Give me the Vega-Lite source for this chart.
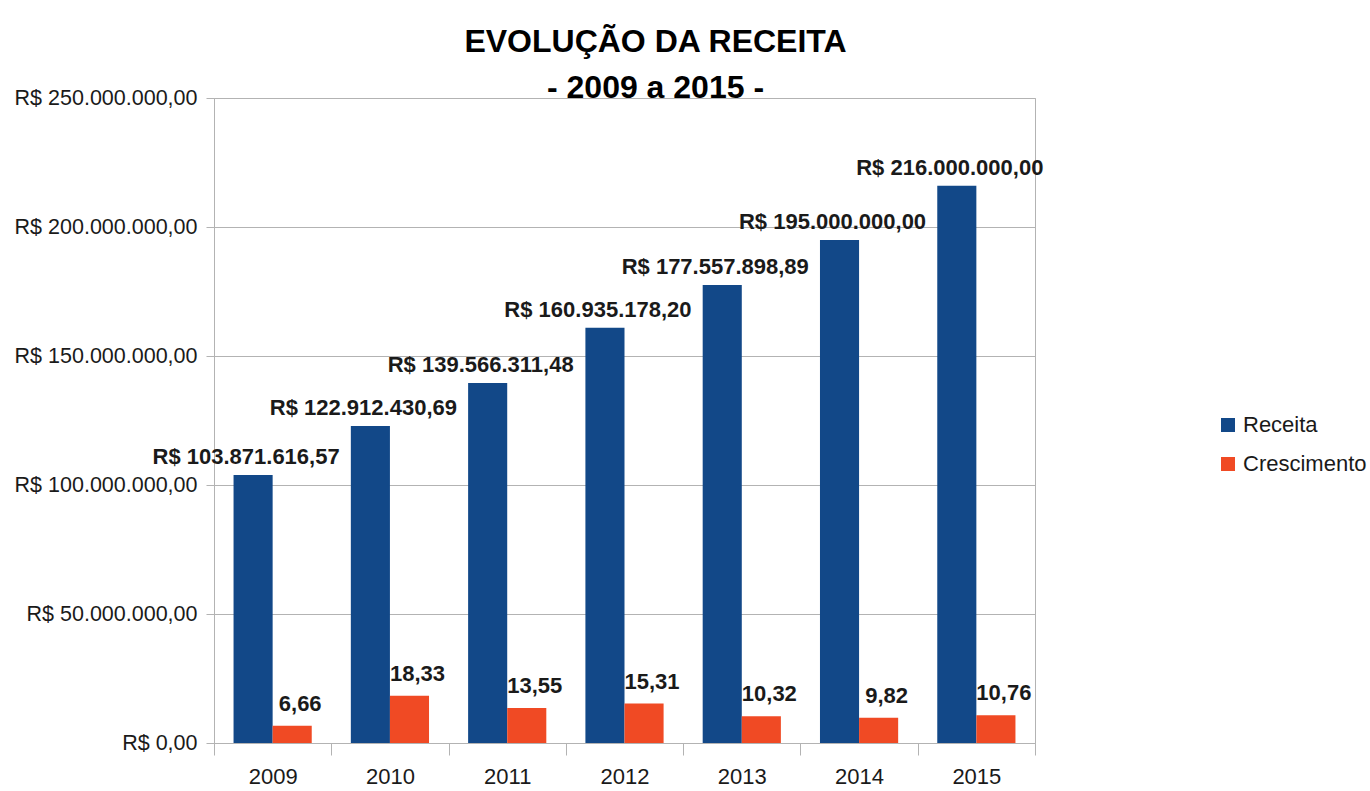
{
  "$schema": "https://vega.github.io/schema/vega-lite/v6.json",
  "width": 821,
  "height": 645,
  "autosize": {"type": "none"},
  "padding": {"left": 214, "top": 98, "right": 335, "bottom": 48},
  "background": "white",
  "title": {
    "text": ["EVOLUÇÃO DA RECEITA", "- 2009 a 2015 -"],
    "font": "Liberation Sans",
    "fontSize": 32,
    "fontWeight": "bold",
    "color": "#000000",
    "lineHeight": 46,
    "anchor": "middle",
    "baseline": "alphabetic",
    "dx": 31,
    "dy": 44,
    "offset": 1
  },
  "data": {
    "values": [
      {"ano": "2009", "serie": "Receita", "valor": 103871616.57, "rotulo": "R$ 103.871.616,57"},
      {"ano": "2009", "serie": "Crescimento", "valor": 6660000, "rotulo": "6,66"},
      {"ano": "2010", "serie": "Receita", "valor": 122912430.69, "rotulo": "R$ 122.912.430,69"},
      {"ano": "2010", "serie": "Crescimento", "valor": 18330000, "rotulo": "18,33"},
      {"ano": "2011", "serie": "Receita", "valor": 139566311.48, "rotulo": "R$ 139.566.311,48"},
      {"ano": "2011", "serie": "Crescimento", "valor": 13550000, "rotulo": "13,55"},
      {"ano": "2012", "serie": "Receita", "valor": 160935178.20, "rotulo": "R$ 160.935.178,20"},
      {"ano": "2012", "serie": "Crescimento", "valor": 15310000, "rotulo": "15,31"},
      {"ano": "2013", "serie": "Receita", "valor": 177557898.89, "rotulo": "R$ 177.557.898,89"},
      {"ano": "2013", "serie": "Crescimento", "valor": 10320000, "rotulo": "10,32"},
      {"ano": "2014", "serie": "Receita", "valor": 195000000, "rotulo": "R$ 195.000.000,00"},
      {"ano": "2014", "serie": "Crescimento", "valor": 9820000, "rotulo": "9,82"},
      {"ano": "2015", "serie": "Receita", "valor": 216000000, "rotulo": "R$ 216.000.000,00"},
      {"ano": "2015", "serie": "Crescimento", "valor": 10760000, "rotulo": "10,76"}
    ]
  },
  "encoding": {
    "x": {
      "field": "ano",
      "type": "nominal",
      "scale": {"paddingInner": 0, "paddingOuter": 0},
      "axis": {
        "title": null,
        "labelAngle": 0,
        "tickBand": "extent",
        "tickSize": 12,
        "labelPadding": 11,
        "labelFont": "Liberation Sans",
        "labelFontSize": 22,
        "labelColor": "#1a1a1a",
        "domainColor": "#b3b3b3",
        "tickColor": "#b3b3b3",
        "grid": false
      }
    },
    "xOffset": {
      "field": "serie",
      "sort": ["Receita", "Crescimento"],
      "scale": {"paddingInner": 0, "paddingOuter": 0.5}
    },
    "y": {
      "field": "valor",
      "type": "quantitative",
      "scale": {"domain": [0, 250000000], "nice": false},
      "axis": {
        "title": null,
        "values": [0, 50000000, 100000000, 150000000, 200000000, 250000000],
        "format": "$,.2f",
        "tickSize": 8,
        "labelPadding": 9,
        "labelLimit": 400,
        "labelFont": "Liberation Sans",
        "labelFontSize": 21.5,
        "labelColor": "#1a1a1a",
        "domainColor": "#b3b3b3",
        "tickColor": "#b3b3b3",
        "gridColor": "#b3b3b3",
        "gridOpacity": 1
      }
    },
    "color": {
      "field": "serie",
      "type": "nominal",
      "scale": {"domain": ["Receita", "Crescimento"], "range": ["#124888", "#f04a24"]},
      "legend": {
        "title": null,
        "orient": "none",
        "legendX": 1003,
        "legendY": 316,
        "symbolType": "square",
        "symbolSize": 196,
        "symbolStrokeWidth": 0,
        "labelFont": "Liberation Sans",
        "labelFontSize": 22,
        "labelColor": "#1a1a1a",
        "labelOffset": 4,
        "labelLimit": 300,
        "rowPadding": 17
      }
    }
  },
  "layer": [
    {"mark": {"type": "bar"}},
    {
      "transform": [{"filter": "datum.serie === 'Receita'"}],
      "mark": {
        "type": "text",
        "baseline": "alphabetic",
        "dy": -11,
        "dx": -7,
        "font": "Liberation Sans",
        "fontSize": 22,
        "fontWeight": "bold",
        "color": "#1a1a1a"
      },
      "encoding": {
        "text": {"field": "rotulo", "type": "nominal"},
        "color": {"value": "#1a1a1a"}
      }
    },
    {
      "transform": [{"filter": "datum.serie === 'Crescimento'"}],
      "mark": {
        "type": "text",
        "baseline": "alphabetic",
        "dy": -15,
        "dx": 8,
        "font": "Liberation Sans",
        "fontSize": 22,
        "fontWeight": "bold",
        "color": "#1a1a1a"
      },
      "encoding": {
        "text": {"field": "rotulo", "type": "nominal"},
        "color": {"value": "#1a1a1a"}
      }
    }
  ],
  "config": {
    "locale": {
      "number": {"decimal": ",", "thousands": ".", "grouping": [3], "currency": ["R$ ", ""]}
    },
    "view": {"stroke": "#b3b3b3", "strokeWidth": 1}
  }
}
